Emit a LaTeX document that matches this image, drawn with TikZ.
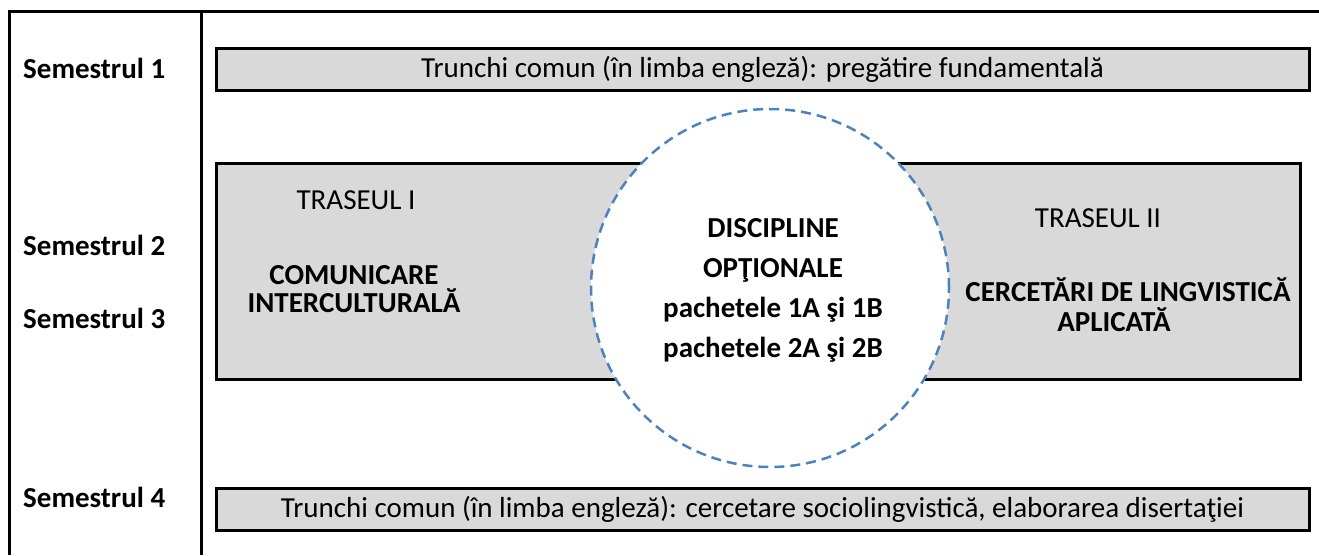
\documentclass[tikz,border=0pt]{standalone}
\usepackage{fontspec}
\setmainfont{Carlito}
\usetikzlibrary{shapes.geometric}

\definecolor{boxgray}{HTML}{D9D9D9}
\definecolor{dashblue}{HTML}{4F81BD}

\begin{document}
\begin{tikzpicture}[x=1pt,y=-1pt]
\tikzstyle{sem}=[anchor=west, inner sep=0pt, font=\fontsize{29}{35}\selectfont\bfseries]
\tikzstyle{band}=[rectangle, text centered, draw=black, line width=3pt, fill=boxgray, inner sep=0pt, font=\fontsize{29}{35}\selectfont]
\tikzstyle{route}=[align=center, inner sep=0pt, font=\fontsize{29}{35}\selectfont]
\tikzstyle{oval}=[circle, draw=dashblue, fill=white, line width=2.5pt, dash pattern=on 10pt off 6pt, minimum size=358pt, inner sep=0pt]
\useasboundingbox (0,0) rectangle (1319,555);
% frame of the table
\draw[line width=3pt] (1319,11) -- (9,11) -- (9,555);
\draw[line width=3pt] (201,11) -- (201,555);
% semesters
\node[sem] (s1) at (23,68) {Semestrul 1};
\node[sem] (s2) at (23,245) {Semestrul 2};
\node[sem] (s3) at (23,318) {Semestrul 3};
\node[sem] (s4) at (23,497) {Semestrul 4};
% common trunk
\node[band, minimum width=1093pt, minimum height=42pt] (b1) at (762.5,69) {Trunchi comun (în limba engleză): pregătire fundamentală};
\node[band, minimum width=1093pt, minimum height=42pt] (b4) at (762.5,509) {Trunchi comun (în limba engleză): cercetare sociolingvistică, elaborarea disertaţiei};
% routes
\node[band, minimum width=1084pt, minimum height=216pt] (mid) at (758,271) {};
\node[route] (t1) at (356,200) {TRASEUL I};
\node[route, font=\fontsize{29}{28}\selectfont\bfseries] (c1) at (354,289) {COMUNICARE\\INTERCULTURALĂ};
\node[route] (t2) at (1098,218) {TRASEUL II};
\node[route, font=\fontsize{29}{30}\selectfont\bfseries] (c2) at (1128,305) {CERCETĂRI DE LINGVISTICĂ\\APLICATĂ\hspace*{28pt}};
% optional courses
\node[oval] (opt) at (770,288) {};
\node[route, font=\fontsize{29}{40}\selectfont\bfseries] (optxt) at (773,290) {DISCIPLINE\\OPŢIONALE\\pachetele 1A şi 1B\\pachetele 2A şi 2B};
\end{tikzpicture}
\end{document}
